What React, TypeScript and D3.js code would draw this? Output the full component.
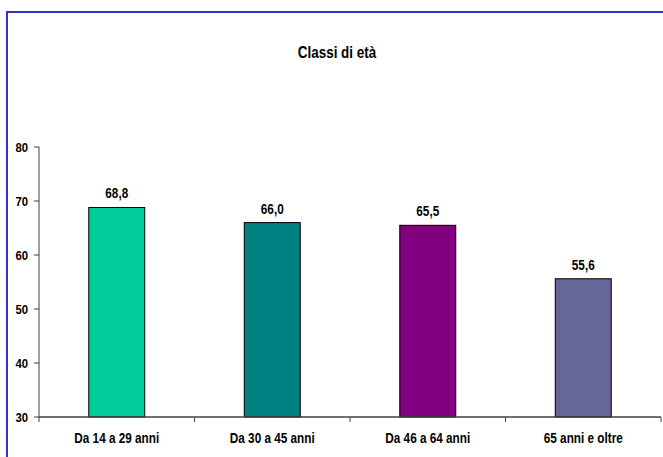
import React from "react";
import * as d3 from "d3";

const categories = ["Da 14 a 29 anni", "Da 30 a 45 anni", "Da 46 a 64 anni", "65 anni e oltre"];
const values = [68.8, 66.0, 65.5, 55.6];
const colors = ["#00CC99", "#008080", "#800080", "#666699"];
const yTicks = [30, 40, 50, 60, 70, 80];
const title = "Classi di età";

const W = 663;
const H = 457;
const FONT = "'Liberation Sans', Arial, sans-serif";
const NARROW = 0.84;

// Bold text squeezed horizontally to get a narrow face
function NarrowText(props: {
  x: number;
  y: number;
  size: number;
  anchor?: "start" | "middle" | "end";
  children: React.ReactNode;
}) {
  const { x, y, size, anchor = "middle", children } = props;
  return (
    <text
      transform={`translate(${x},${y}) scale(${NARROW},1)`}
      textAnchor={anchor}
      fontSize={size}
      fontWeight="bold"
      fill="#000"
    >
      {children}
    </text>
  );
}

export default function App() {
  const left = 39;
  const right = 661;
  const top = 147;
  const bottom = 417;

  const x = d3.scaleBand<string>().domain(categories).range([left, right]).paddingInner(0.64).paddingOuter(0.32);
  const y = d3.scaleLinear().domain([30, 80]).range([bottom, top]);
  const step = (right - left) / categories.length;
  const fmt = (v: number) => v.toFixed(1).replace(".", ",");

  return (
    <svg
      width={W}
      height={H}
      style={{ position: "absolute", left: 0, top: 0, display: "block", background: "#fff" }}
      fontFamily={FONT}
    >
      <rect x={7} y={12} width={W + 20} height={H + 20} fill="#fff" stroke="#3333CC" strokeWidth={2} />
      <NarrowText x={337} y={58} size={16}>
        {title}
      </NarrowText>

      {categories.map((c, i) => (
        <g key={c}>
          <rect
            x={x(c)!}
            y={y(values[i])}
            width={x.bandwidth()}
            height={y(30) - y(values[i])}
            fill={colors[i]}
            stroke="#000"
            strokeWidth={1}
          />
          <NarrowText x={x(c)! + x.bandwidth() / 2} y={y(values[i]) - 9} size={14}>
            {fmt(values[i])}
          </NarrowText>
          <NarrowText x={left + step * (i + 0.5)} y={443} size={14}>
            {c}
          </NarrowText>
        </g>
      ))}

      {/* y axis */}
      <line x1={left} x2={left} y1={top} y2={bottom} stroke="#404040" strokeWidth={1} />
      {yTicks.map((t) => (
        <g key={t}>
          <line x1={left - 5} x2={left} y1={y(t)} y2={y(t)} stroke="#404040" />
          <NarrowText x={28} y={y(t) + 5} size={13.5} anchor="end">
            {t}
          </NarrowText>
        </g>
      ))}

      {/* x axis */}
      <line x1={left} x2={right} y1={bottom} y2={bottom} stroke="#404040" strokeWidth={1.5} />
      {d3.range(categories.length + 1).map((i) => (
        <line key={i} x1={left + step * i} x2={left + step * i} y1={bottom} y2={bottom + 5} stroke="#404040" />
      ))}
    </svg>
  );
}
